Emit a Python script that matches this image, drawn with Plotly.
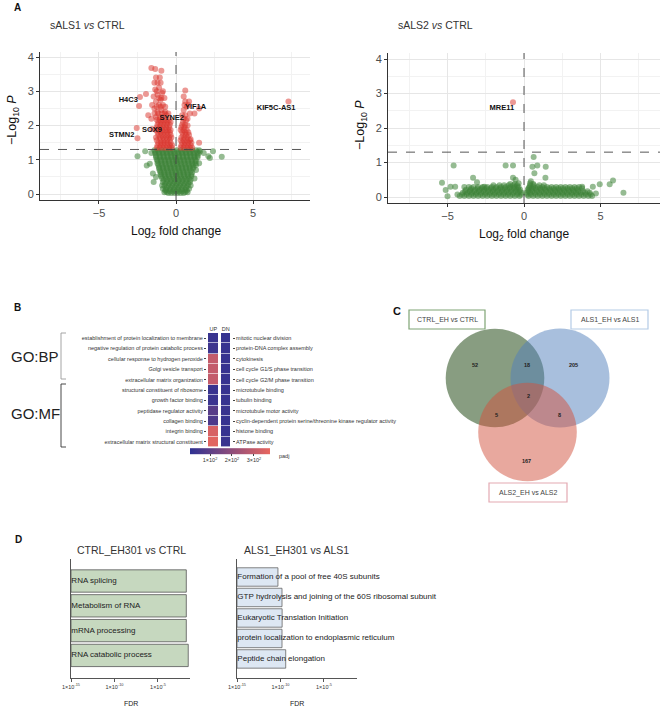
import plotly.graph_objects as go

W, H = 666, 709
def fx(px): return px / W
def fy(py): return 1 - py / H

# ---------------- DATA ----------------
# Panel A, sALS1 vs CTRL : (log2FC, -log10 P)
v1_sig = [(-1.25,1.35),(-1.05,1.35),(-0.85,1.35),(-0.65,1.35),(-0.45,1.35),(-0.28,1.35),
          (-1.15,1.5),(-0.95,1.5),(-0.75,1.5),(-0.55,1.5),(-0.35,1.5),
          (-1.3,1.65),(-1.05,1.65),(-0.85,1.65),(-0.65,1.65),(-0.45,1.65),(-0.3,1.65),
          (-1.2,1.8),(-1.0,1.8),(-0.8,1.8),(-0.6,1.8),(-0.4,1.8),
          (-1.25,1.95),(-1.05,1.95),(-0.85,1.95),(-0.65,1.95),(-0.45,1.95),
          (-1.15,2.1),(-0.95,2.1),(-0.75,2.1),(-0.55,2.1),(-0.35,2.1),
          (-1.3,2.25),(-1.05,2.25),(-0.85,2.25),(-0.6,2.3),
          (-1.2,2.4),(-0.95,2.45),(-0.7,2.4),(-1.4,2.5),
          (-1.1,2.6),(-0.85,2.6),(-1.3,2.7),(-1.0,2.75),(-0.75,2.8),
          (-1.45,2.85),(-1.2,2.9),(-0.9,2.95),(-1.35,3.05),(-1.1,3.1),
          (-1.4,3.25),(-1.2,3.25),(-1.0,3.25),
          (-1.6,3.68),(-1.35,3.65),(-0.95,3.6),
          (-1.55,2.6),(-1.6,2.2),(-1.55,1.9),
          (-1.2,1.42),(-1.0,1.42),(-0.8,1.42),(-0.6,1.42),(-0.4,1.42),(-0.25,1.42),
          (-1.25,1.57),(-1.0,1.57),(-0.8,1.57),(-0.6,1.57),(-0.4,1.57),
          (-1.15,1.72),(-0.95,1.72),(-0.75,1.72),(-0.55,1.72),(-0.35,1.72),
          (-1.3,1.87),(-1.1,1.87),(-0.9,1.87),(-0.7,1.87),(-0.5,1.87),(-0.35,1.87),
          (-1.2,2.02),(-1.0,2.02),(-0.8,2.02),(-0.6,2.02),(-0.4,2.02),
          (-1.25,2.17),(-1.05,2.17),(-0.85,2.17),(-0.65,2.17),(-0.45,2.17),
          (-1.4,2.35),(-1.15,2.35),(-0.9,2.35),(-0.75,2.35),(-0.5,2.35),
          (-1.25,2.55),(-1.0,2.55),(-0.7,2.55),(-1.1,2.8),(-0.95,2.8),
          (-1.25,3.0),(-0.85,3.0),(-1.3,3.4),(-1.05,3.4),
          (0.3,1.35),(0.5,1.35),(0.7,1.35),(0.9,1.35),(1.05,1.35),
          (0.4,1.5),(0.6,1.5),(0.8,1.5),(1.0,1.5),(1.5,1.5),
          (0.35,1.65),(0.55,1.65),(0.75,1.65),(0.95,1.6),
          (0.4,1.8),(0.6,1.8),(0.8,1.8),
          (0.35,1.95),(0.55,1.95),(0.75,2.0),
          (0.45,2.1),(0.65,2.15),(0.4,2.3),(0.6,2.3),(0.9,2.35),(1.2,2.35),
          (0.5,2.45),(0.7,2.55),(0.6,2.7),(0.85,2.7),(0.5,2.85),(0.6,3.02),
          (0.35,1.42),(0.55,1.42),(0.75,1.42),(0.95,1.42),
          (0.3,1.57),(0.5,1.57),(0.7,1.57),(0.9,1.57),
          (0.45,1.72),(0.65,1.72),(0.85,1.72),
          (0.3,1.87),(0.5,1.87),(0.7,1.87),
          (0.4,2.02),(0.6,2.02),(0.5,2.2),(0.75,2.2),(0.55,2.6),(0.8,2.6),
          (-2.34,2.83),(-2.4,2.57),(-1.95,2.92),(-2.55,1.93),(-2.5,1.63),
          (7.3,2.7),(1.5,2.5),(-1.8,2.3)]
v1_ns = [(-0.5,0.03),(-0.3,0.03),(-0.1,0.03),(0.1,0.03),(0.3,0.03),(0.5,0.03),
         (-0.75,0.05),(-0.6,0.06),(0.6,0.06),(0.75,0.05),(-0.7,0.1),(0.7,0.1),
         (-0.85,0.15),(0.85,0.15),(-0.9,0.25),(0.95,0.25),
         (-0.4,0.08),(-0.2,0.08),(0.0,0.08),(0.2,0.08),(0.4,0.08),
         (-0.65,0.13),(-0.4,0.13),(-0.15,0.13),(0.1,0.13),(0.35,0.13),(0.6,0.13),
         (-0.6,0.19),(-0.35,0.19),(-0.1,0.19),(0.15,0.19),(0.4,0.19),(0.65,0.19),
         (-0.75,0.24),(-0.5,0.24),(-0.25,0.24),(0.0,0.24),(0.25,0.24),(0.5,0.24),(0.75,0.24),
         (-0.7,0.30),(-0.45,0.30),(-0.2,0.30),(0.05,0.30),(0.3,0.30),(0.55,0.30),(0.8,0.30),
         (-0.85,0.35),(-0.6,0.35),(-0.35,0.35),(-0.1,0.35),(0.15,0.35),(0.4,0.35),(0.65,0.35),(0.9,0.35),
         (-0.8,0.41),(-0.55,0.41),(-0.3,0.41),(-0.05,0.41),(0.2,0.41),(0.45,0.41),(0.7,0.41),(0.95,0.41),
         (-0.9,0.46),(-0.65,0.46),(-0.4,0.46),(-0.15,0.46),(0.1,0.46),(0.35,0.46),(0.6,0.46),(0.85,0.46),
         (-0.95,0.52),(-0.7,0.52),(-0.45,0.52),(-0.2,0.52),(0.05,0.52),(0.3,0.52),(0.55,0.52),(0.8,0.52),(1.0,0.52),
         (-1.0,0.57),(-0.75,0.57),(-0.5,0.57),(-0.25,0.57),(0.0,0.57),(0.25,0.57),(0.5,0.57),(0.75,0.57),(1.0,0.57),
         (-1.0,0.63),(-0.75,0.63),(-0.5,0.63),(-0.25,0.63),(0.0,0.63),(0.25,0.63),(0.5,0.63),(0.75,0.63),(1.05,0.63),
         (-1.05,0.68),(-0.8,0.68),(-0.55,0.68),(-0.3,0.68),(-0.05,0.68),(0.2,0.68),(0.45,0.68),(0.7,0.68),(0.95,0.68),
         (-1.1,0.74),(-0.85,0.74),(-0.6,0.74),(-0.35,0.74),(-0.1,0.74),(0.15,0.74),(0.4,0.74),(0.65,0.74),(0.9,0.74),(1.1,0.74),
         (-1.1,0.79),(-0.85,0.79),(-0.6,0.79),(-0.35,0.79),(-0.1,0.79),(0.15,0.79),(0.4,0.79),(0.65,0.79),(0.9,0.79),(1.15,0.79),
         (-1.15,0.85),(-0.9,0.85),(-0.65,0.85),(-0.4,0.85),(-0.15,0.85),(0.1,0.85),(0.35,0.85),(0.6,0.85),(0.85,0.85),(1.1,0.85),(1.3,0.85),
         (-1.2,0.9),(-0.95,0.9),(-0.7,0.9),(-0.45,0.9),(-0.2,0.9),(0.05,0.9),(0.3,0.9),(0.55,0.9),(0.8,0.9),(1.05,0.9),(1.25,0.9),
         (-1.2,0.96),(-0.95,0.96),(-0.7,0.96),(-0.45,0.96),(-0.2,0.96),(0.05,0.96),(0.3,0.96),(0.55,0.96),(0.8,0.96),(1.05,0.96),(1.3,0.96),
         (-1.25,1.01),(-1.0,1.01),(-0.75,1.01),(-0.5,1.01),(-0.25,1.01),(0.0,1.01),(0.25,1.01),(0.5,1.01),(0.75,1.01),(1.0,1.01),(1.25,1.01),
         (-1.3,1.07),(-1.05,1.07),(-0.8,1.07),(-0.55,1.07),(-0.3,1.07),(-0.05,1.07),(0.2,1.07),(0.45,1.07),(0.7,1.07),(0.95,1.07),(1.2,1.07),(1.4,1.07),
         (-1.3,1.12),(-1.05,1.12),(-0.8,1.12),(-0.55,1.12),(-0.3,1.12),(-0.05,1.12),(0.2,1.12),(0.45,1.12),(0.7,1.12),(0.95,1.12),(1.2,1.12),(1.4,1.12),
         (-1.35,1.18),(-1.1,1.18),(-0.85,1.18),(-0.6,1.18),(-0.35,1.18),(-0.1,1.18),(0.15,1.18),(0.4,1.18),(0.65,1.18),(0.9,1.18),(1.15,1.18),(1.45,1.18),
         (-1.35,1.23),(-1.1,1.23),(-0.85,1.23),(-0.6,1.23),(-0.35,1.23),(-0.1,1.23),(0.15,1.23),(0.4,1.23),(0.65,1.23),(0.9,1.23),(1.15,1.23),(1.4,1.23),
         (-1.4,1.28),(-1.2,1.28),(-0.95,1.28),(-0.7,1.28),(-0.45,1.28),(-0.2,1.28),(0.05,1.28),(0.3,1.28),(0.55,1.28),(0.8,1.28),(1.05,1.28),(1.3,1.28),(1.5,1.28),
         (-2.5,1.1),(-1.9,0.83),(-1.7,0.88),(-1.5,0.6),(-1.45,0.35),(-1.6,1.2),(1.56,1.24),(2.1,1.1),
         (2.97,1.09),(2.2,1.05),(1.5,0.9),(1.3,0.7),(1.2,0.45),(1.8,1.2),(-1.3,0.5),(-2.0,1.25),(2.4,1.25)]
v1_genes = ["H4C3", "YIF1A", "KIF5C-AS1", "SYNE2", "SOX9", "STMN2"]
v1_gene_x = [-3.1, 1.27, 6.5, -0.28, -1.56, -3.53]
v1_gene_y = [2.74, 2.55, 2.5, 2.23, 1.87, 1.72]

# Panel A, sALS2 vs CTRL
v2_sig = [(-0.72, 2.75)]
v2_ns = [(-4.2,0.03),(-3.9,0.03),(-3.6,0.03),(-3.3,0.03),(-3.0,0.03),(-2.7,0.03),(-2.4,0.03),(-2.1,0.03),
         (-1.8,0.03),(-1.5,0.03),(-1.2,0.03),(-0.9,0.03),(-0.6,0.03),(-0.3,0.03),(0.3,0.03),(0.6,0.03),
         (0.9,0.03),(1.2,0.03),(1.5,0.03),(1.8,0.03),(2.1,0.03),(2.4,0.03),(2.7,0.03),(3.0,0.03),
         (3.3,0.03),(3.6,0.03),(3.9,0.03),(4.2,0.03),(4.45,0.03),
         (-4.35,0.07),(-4.05,0.07),(-3.75,0.07),(-3.45,0.07),(-3.15,0.07),(-2.85,0.07),(-2.55,0.07),(-2.25,0.07),
         (-1.95,0.07),(-1.65,0.07),(-1.35,0.07),(-1.05,0.07),(-0.75,0.07),(-0.45,0.07),(-0.2,0.07),(0.2,0.07),
         (0.45,0.07),(0.75,0.07),(1.05,0.07),(1.35,0.07),(1.65,0.07),(1.95,0.07),(2.25,0.07),(2.55,0.07),
         (2.85,0.07),(3.15,0.07),(3.45,0.07),(3.75,0.07),(4.05,0.07),(4.35,0.07),
         (-4.0,0.12),(-3.7,0.12),(-3.4,0.12),(-3.1,0.12),(-2.8,0.12),(-2.5,0.12),(-2.2,0.12),(-1.9,0.12),
         (-1.6,0.12),(-1.3,0.12),(-1.0,0.12),(-0.7,0.12),(-0.4,0.12),(-0.15,0.12),(0.15,0.12),(0.4,0.12),
         (0.7,0.12),(1.0,0.12),(1.3,0.12),(1.6,0.12),(1.9,0.12),(2.2,0.12),(2.5,0.12),(2.8,0.12),
         (3.1,0.12),(3.4,0.12),(3.7,0.12),(4.0,0.12),(4.3,0.12),
         (-3.85,0.17),(-3.55,0.17),(-3.25,0.17),(-2.95,0.17),(-2.65,0.17),(-2.35,0.17),(-2.05,0.17),(-1.75,0.17),
         (-1.45,0.17),(-1.15,0.17),(-0.85,0.17),(-0.55,0.17),(-0.3,0.17),(0.3,0.17),(0.55,0.17),(0.85,0.17),
         (1.15,0.17),(1.45,0.17),(1.75,0.17),(2.05,0.17),(2.35,0.17),(2.65,0.17),(2.95,0.17),(3.25,0.17),
         (3.55,0.17),(3.85,0.17),(4.15,0.17),
         (-3.8,0.21),(-3.5,0.21),(-3.2,0.21),(-2.9,0.21),(-2.6,0.21),(-2.3,0.21),(-2.0,0.21),(-1.7,0.21),
         (-1.4,0.21),(-1.1,0.21),(-0.8,0.21),(-0.5,0.21),(-0.25,0.21),(0.25,0.21),(0.5,0.21),(0.8,0.21),
         (1.1,0.21),(1.4,0.21),(1.7,0.21),(2.0,0.21),(2.3,0.21),(2.6,0.21),(2.9,0.21),(3.2,0.21),(3.5,0.21),
         (-3.45,0.25),(-3.05,0.25),(-2.75,0.25),(-2.45,0.25),(-2.15,0.25),(-1.85,0.25),(-1.55,0.25),(-1.25,0.25),
         (-0.95,0.25),(-0.65,0.25),(-0.4,0.25),(0.3,0.25),(0.5,0.25),(0.75,0.25),(1.05,0.25),(1.35,0.25),
         (1.65,0.25),(1.95,0.25),(2.25,0.25),(2.55,0.25),(2.85,0.25),(3.15,0.25),(3.45,0.25),(3.8,0.25),
         (-3.9,0.29),(-3.6,0.29),(-3.3,0.29),(-3.0,0.29),(-2.7,0.29),(-2.4,0.29),(-2.1,0.29),(-1.8,0.29),
         (-1.5,0.29),(-1.2,0.29),(-0.9,0.29),(-0.6,0.29),(-0.35,0.29),(0.35,0.29),(0.6,0.29),(0.9,0.29),
         (1.2,0.29),(1.5,0.29),(1.8,0.29),(2.1,0.29),(2.4,0.29),(2.7,0.29),(3.0,0.29),(3.3,0.29),(3.6,0.29),
         (-2.0,0.34),(-1.6,0.34),(-1.3,0.34),(-1.0,0.34),(-0.7,0.34),(-0.45,0.34),(0.4,0.34),(0.65,0.34),
         (1.0,0.34),(1.3,0.34),(-0.9,0.38),(-0.6,0.38),(-0.35,0.4),(0.4,0.4),(0.6,0.38),(0.45,0.46),
         (-4.6,0.91),(-1.2,0.91),(-0.72,0.91),(0.63,1.16),(0.55,0.88),(0.87,0.91),(1.42,0.88),
         (0.68,0.69),(1.4,0.56),(-5.36,0.41),(-3.33,0.56),(-3.07,0.43),(-0.72,0.56),(-0.55,0.5),
         (4.95,0.37),(5.6,0.37),(5.82,0.48),(6.5,0.12),(-5.12,0.2),(-5.0,0.02),(-4.5,0.3),
         (-4.8,0.3),(4.7,0.1),(4.5,0.3),(3.8,0.3),(-2.6,0.3)]
v2_genes = ["MRE11"]
v2_gene_x = [-1.45]
v2_gene_y = [2.57]
p_cutoff_log = 1.3

# Panel B: GO heatmap (padj, x10^2)
go_left = ["establishment of protein localization to membrane",
           "negative regulation of protein catabolic process",
           "cellular response to hydrogen peroxide",
           "Golgi vesicle transport",
           "extracellular matrix organization",
           "structural constituent of ribosome",
           "growth factor binding",
           "peptidase regulator activity",
           "collagen binding",
           "integrin binding",
           "extracellular matrix structural constituent"]
go_right = ["mitotic nuclear division",
            "protein-DNA complex assembly",
            "cytokinesis",
            "cell cycle G1/S phase transition",
            "cell cycle G2/M phase transition",
            "microtubule binding",
            "tubulin binding",
            "microtubule motor activity",
            "cyclin-dependent protein serine/threonine kinase regulator activity",
            "histone binding",
            "ATPase activity"]
up_padj = [0.3, 0.4, 3.0, 3.0, 3.0, 0.3, 0.35, 0.9, 0.7, 3.4, 3.6]
dn_padj = [0.25, 0.25, 0.25, 0.25, 0.25, 0.25, 0.25, 0.3, 0.25, 0.25, 0.3]
cb_ticks = [1, 2, 3]
cb_ticktext = ["1×10<sup>2</sup>", "2×10<sup>2</sup>", "3×10<sup>2</sup>"]

# Panel C: Venn counts
venn_names = ["CTRL_EH vs CTRL", "ALS1_EH vs ALS1", "ALS2_EH vs ALS2"]
venn_counts = {"A": 52, "AB": 18, "B": 205, "ABC": 2, "AC": 5, "BC": 8, "C": 167}

# Panel D: enrichment FDR
d1_terms = ["RNA splicing", "Metabolism of RNA", "mRNA processing", "RNA catabolic process"]
d1_fdr = [1.8e-2, 1.8e-2, 1.8e-2, 3.0e-2]
d2_terms = ["Formation of a pool of free 40S subunits",
            "GTP hydrolysis and joining of the 60S ribosomal subunit",
            "Eukaryotic Translation Initiation",
            "protein localization to endoplasmic reticulum",
            "Peptide chain elongation"]
d2_fdr = [5.1e-11, 1.5e-10, 1.55e-10, 1.5e-10, 4.0e-10]
fdr_ticks = [1e-15, 1e-10, 1e-5]
fdr_ticktext = ["1×10<sup>-15</sup>", "1×10<sup>-10</sup>", "1×10<sup>-5</sup>"]

# ---------------- FIGURE ----------------
FONT = "Liberation Sans, Arial, sans-serif"
fig = go.Figure()

RED = "rgba(218,50,42,0.5)"
GREEN = "rgba(62,132,56,0.55)"

def add_volcano(sig, ns, genes, gx, gy, xa, ya):
    fig.add_trace(go.Scatter(x=[p[0] for p in ns], y=[p[1] for p in ns], mode="markers",
                             marker=dict(size=6, color=GREEN, line=dict(width=0)),
                             xaxis=xa, yaxis=ya, showlegend=False, hoverinfo="skip"))
    fig.add_trace(go.Scatter(x=[p[0] for p in sig], y=[p[1] for p in sig], mode="markers",
                             marker=dict(size=6, color=RED, line=dict(width=0)),
                             xaxis=xa, yaxis=ya, showlegend=False, hoverinfo="skip"))
    fig.add_trace(go.Scatter(x=gx, y=gy, mode="text", text=genes,
                             textfont=dict(family=FONT, size=7.5, color="#111", weight="bold"),
                             xaxis=xa, yaxis=ya, showlegend=False, hoverinfo="skip", cliponaxis=False))

add_volcano(v1_sig, v1_ns, v1_genes, v1_gene_x, v1_gene_y, "x", "y")
add_volcano(v2_sig, v2_ns, v2_genes, v2_gene_x, v2_gene_y, "x2", "y2")

# Heatmap
fig.add_trace(go.Heatmap(z=[[u, d] for u, d in zip(up_padj, dn_padj)], x=[0, 1], y=list(range(len(go_left))),
                         colorscale=[[0, "#2e3192"], [0.5, "#8b4c7c"], [1, "#e8675f"]], zmin=0.09, zmax=3.73,
                         xgap=3, ygap=0.6, xaxis="x3", yaxis="y3", hoverinfo="skip",
                         colorbar=dict(orientation="h", x=fx(230), xanchor="center", y=fy(456), yanchor="middle",
                                       len=80, lenmode="pixels", thickness=6, thicknessmode="pixels",
                                       outlinewidth=0, xpad=0, ypad=0,
                                       tickvals=cb_ticks, ticktext=cb_ticktext, ticks="outside", ticklen=2,
                                       tickcolor="#444", tickfont=dict(family=FONT, size=5.5, color="#333"))))
fig.add_trace(go.Scatter(x=[None], y=[None], xaxis="x3", yaxis="y4", showlegend=False, hoverinfo="skip"))

# Panel D bars
fig.add_trace(go.Bar(x=d1_fdr, y=list(range(len(d1_terms))), base=1e-15, orientation="h", width=0.9,
                     marker=dict(color="#c6d8bf", line=dict(color="#555", width=0.8)),
                     xaxis="x5", yaxis="y5", showlegend=False, hoverinfo="skip"))
fig.add_trace(go.Scatter(x=[1.1e-15] * len(d1_terms), y=list(range(len(d1_terms))), mode="text", text=d1_terms,
                         textposition="middle right", textfont=dict(family=FONT, size=8, color="#222"),
                         xaxis="x5", yaxis="y5", showlegend=False, hoverinfo="skip", cliponaxis=False))
fig.add_trace(go.Bar(x=d2_fdr, y=list(range(len(d2_terms))), base=1e-15, orientation="h", width=0.9,
                     marker=dict(color="#dde7f3", line=dict(color="#666", width=0.8)),
                     xaxis="x6", yaxis="y6", showlegend=False, hoverinfo="skip"))
fig.add_trace(go.Scatter(x=[1.1e-15] * len(d2_terms), y=list(range(len(d2_terms))), mode="text", text=d2_terms,
                         textposition="middle right", textfont=dict(family=FONT, size=8, color="#222"),
                         xaxis="x6", yaxis="y6", showlegend=False, hoverinfo="skip", cliponaxis=False))

# ---------------- AXES ----------------
def vx(dom, rng):
    return dict(domain=[fx(dom[0]), fx(dom[1])], range=rng, showline=True, linecolor="#333", linewidth=1,
                ticks="outside", ticklen=3, tickcolor="#333", tickfont=dict(family=FONT, size=11, color="#4d4d4d"),
                showgrid=True, gridcolor="#e6e6e6", gridwidth=0.8, zeroline=False, tickvals=[-5, 0, 5],
                minor=dict(tickvals=[-7.5, -2.5, 2.5, 7.5], showgrid=True, gridcolor="#f2f2f2", gridwidth=0.6, ticks=""),
                fixedrange=True, automargin=False)

def vy(dom, rng):
    return dict(domain=[fy(dom[1]), fy(dom[0])], range=rng, showline=True, linecolor="#333", linewidth=1,
                ticks="outside", ticklen=3, tickcolor="#333", tickfont=dict(family=FONT, size=11, color="#4d4d4d"),
                showgrid=True, gridcolor="#e6e6e6", gridwidth=0.8, zeroline=False, tickvals=[0, 1, 2, 3, 4],
                minor=dict(tickvals=[0.5, 1.5, 2.5, 3.5], showgrid=True, gridcolor="#f2f2f2", gridwidth=0.6, ticks=""),
                fixedrange=True, automargin=False)

n = len(go_left)
layout = dict(
    width=W, height=H, margin=dict(l=0, r=0, t=0, b=0, pad=0, autoexpand=False),
    paper_bgcolor="white", plot_bgcolor="white",
    font=dict(family=FONT, color="#222"), showlegend=False,
    xaxis=dict(vx((40, 310), [-8.83, 8.7]), anchor="y"),
    yaxis=dict(vy((52, 200), [-0.175, 4.146]), anchor="x"),
    xaxis2=dict(vx((388, 660), [-8.89, 8.89]), anchor="y2"),
    yaxis2=dict(vy((53, 203), [-0.174, 4.174]), anchor="x2"),
    xaxis3=dict(domain=[fx(207), fx(232)], range=[-0.5, 1.5], anchor="y3", side="top",
                tickvals=[0, 1], ticktext=["UP", "DN"], ticks="", showline=False, showgrid=False, zeroline=False,
                tickfont=dict(family=FONT, size=5.5, color="#333"), fixedrange=True, automargin=False),
    yaxis3=dict(domain=[fy(447), fy(333)], range=[n - 0.5, -0.5], anchor="x3", side="left",
                tickvals=list(range(n)), ticktext=go_left, ticks="outside", ticklen=2, tickcolor="#444",
                tickfont=dict(family=FONT, size=5.5, color="#333"), showline=False, showgrid=False, zeroline=False,
                fixedrange=True, automargin=False),
    yaxis4=dict(domain=[fy(447), fy(333)], range=[n - 0.5, -0.5], anchor="x3", overlaying="y3", side="right",
                tickvals=list(range(n)), ticktext=go_right, ticks="outside", ticklen=2, tickcolor="#444",
                tickfont=dict(family=FONT, size=5.5, color="#333"), showline=False, showgrid=False, zeroline=False,
                fixedrange=True, automargin=False),
    xaxis5=dict(domain=[fx(71), fx(190)], type="log", range=[-15, -1.32], anchor="y5",
                showline=True, linecolor="#555", linewidth=1, ticks="outside", ticklen=3, tickcolor="#555",
                tickvals=fdr_ticks, ticktext=fdr_ticktext, tickfont=dict(family=FONT, size=5.5, color="#333"),
                showgrid=False, zeroline=False, fixedrange=True, automargin=False),
    yaxis5=dict(domain=[fy(678), fy(559)], range=[3.91, -0.887], anchor="x5", showline=True, linecolor="#555",
                linewidth=1, showticklabels=False, ticks="", showgrid=False, zeroline=False, fixedrange=True,
                automargin=False),
    xaxis6=dict(domain=[fx(237), fx(357)], type="log", range=[-15, -1.2], anchor="y6",
                showline=True, linecolor="#555", linewidth=1, ticks="outside", ticklen=3, tickcolor="#555",
                tickvals=fdr_ticks, ticktext=fdr_ticktext, tickfont=dict(family=FONT, size=5.5, color="#333"),
                showgrid=False, zeroline=False, fixedrange=True, automargin=False),
    yaxis6=dict(domain=[fy(678), fy(559)], range=[4.93, -0.878], anchor="x6", showline=True, linecolor="#555",
                linewidth=1, showticklabels=False, ticks="", showgrid=False, zeroline=False, fixedrange=True,
                automargin=False),
    bargap=0.1,
)
fig.update_layout(**layout)

# ---------------- SHAPES ----------------
shapes = []
for xa, ya in (("x", "y"), ("x2", "y2")):
    shapes.append(dict(type="line", xref=xa, yref=ya + " domain", x0=0, x1=0, y0=0, y1=1,
                       line=dict(color="#444", width=0.9, dash="dash")))
    shapes.append(dict(type="line", xref=xa + " domain", yref=ya, x0=0, x1=1, y0=p_cutoff_log, y1=p_cutoff_log,
                       line=dict(color="#444", width=0.9, dash="dash")))

def pline(x0, y0, x1, y1, color, width=0.9):
    shapes.append(dict(type="line", xref="paper", yref="paper", x0=fx(x0), y0=fy(y0), x1=fx(x1), y1=fy(y1),
                       line=dict(color=color, width=width)))

# GO brackets
pline(61, 333, 61, 379, "#9a9a9a"); pline(61, 333, 66, 333, "#9a9a9a"); pline(61, 379, 66, 379, "#9a9a9a")
pline(61, 384, 61, 447, "#333"); pline(61, 384, 66, 384, "#333"); pline(61, 447, 66, 447, "#333")

# Venn circles
def circle(cx, cy, r, fill):
    shapes.append(dict(type="circle", xref="paper", yref="paper", x0=fx(cx - r), x1=fx(cx + r),
                       y0=fy(cy + r), y1=fy(cy - r), fillcolor=fill, line=dict(width=0), layer="below"))
circle(495, 378, 49.3, "rgba(18,60,4,0.5)")
circle(560, 378, 49.5, "rgba(82,128,188,0.5)")
circle(527.5, 432, 49.3, "rgba(210,82,62,0.5)")

def box(x0, y0, x1, y1, color):
    shapes.append(dict(type="rect", xref="paper", yref="paper", x0=fx(x0), x1=fx(x1), y0=fy(y1), y1=fy(y0),
                       line=dict(color=color, width=1.2), fillcolor="rgba(255,255,255,0)"))
box(409, 310, 485, 329, "#7fa474")
box(571, 310, 648, 329, "#b4cbe6")
box(489, 483, 567, 502, "#e3a9b2")
fig.update_layout(shapes=shapes)

# ---------------- ANNOTATIONS ----------------
ann = []
def txt(x, y, s, size, color="#222", bold=False, xanchor="center", angle=0, family=FONT):
    ann.append(dict(xref="paper", yref="paper", x=fx(x), y=fy(y), text=("<b>%s</b>" % s) if bold else s,
                    showarrow=False, xanchor=xanchor, yanchor="middle", textangle=angle,
                    font=dict(family=family, size=size, color=color)))

txt(17, 8, "A", 10, "#111", bold=True)
txt(17, 307, "B", 10, "#111", bold=True)
txt(397, 311, "C", 11, "#111", bold=True)
txt(18, 539, "D", 10, "#111", bold=True)

txt(48, 25, "sALS1 <i>vs</i> CTRL", 10.5, "#333", xanchor="left")
txt(396, 25, "sALS2 <i>vs</i> CTRL", 10.5, "#333", xanchor="left")
txt(13, 120, "−Log<sub>10</sub> <i>P</i>", 12.5, "#111", angle=-90)
txt(361, 125, "−Log<sub>10</sub> <i>P</i>", 12.5, "#111", angle=-90)
txt(176, 232, "Log<sub>2</sub> fold change", 12, "#111")
txt(524, 235, "Log<sub>2</sub> fold change", 12, "#111")

txt(35, 356, "GO:BP", 15, "#222")
txt(35, 413, "GO:MF", 15, "#222")
txt(277, 456, "padj", 5.5, "#333", xanchor="left")

# Venn labels
vpos = {"A": (475, 365), "AB": (527, 365), "B": (573, 365), "ABC": (528, 396),
        "AC": (496.5, 415), "BC": (559, 415), "C": (526, 461)}
for k, v in venn_counts.items():
    txt(vpos[k][0], vpos[k][1], str(v), 5.5, "#222", bold=True)
txt(447, 319.5, venn_names[0], 7, "#444")
txt(609.5, 319.5, venn_names[1], 7, "#444")
txt(528, 492.5, venn_names[2], 7, "#444")

# Panel D titles
txt(131, 550, "CTRL_EH301 vs CTRL", 10.5, "#333")
txt(296, 550, "ALS1_EH301 vs ALS1", 10.5, "#333")
txt(131, 703, "FDR", 7, "#222")
txt(297, 703, "FDR", 7, "#222")

fig.update_layout(annotations=ann)

fig.write_html("out.html", config={"displayModeBar": False},
               post_script="document.body.style.margin='0px';document.body.style.padding='0px';")
